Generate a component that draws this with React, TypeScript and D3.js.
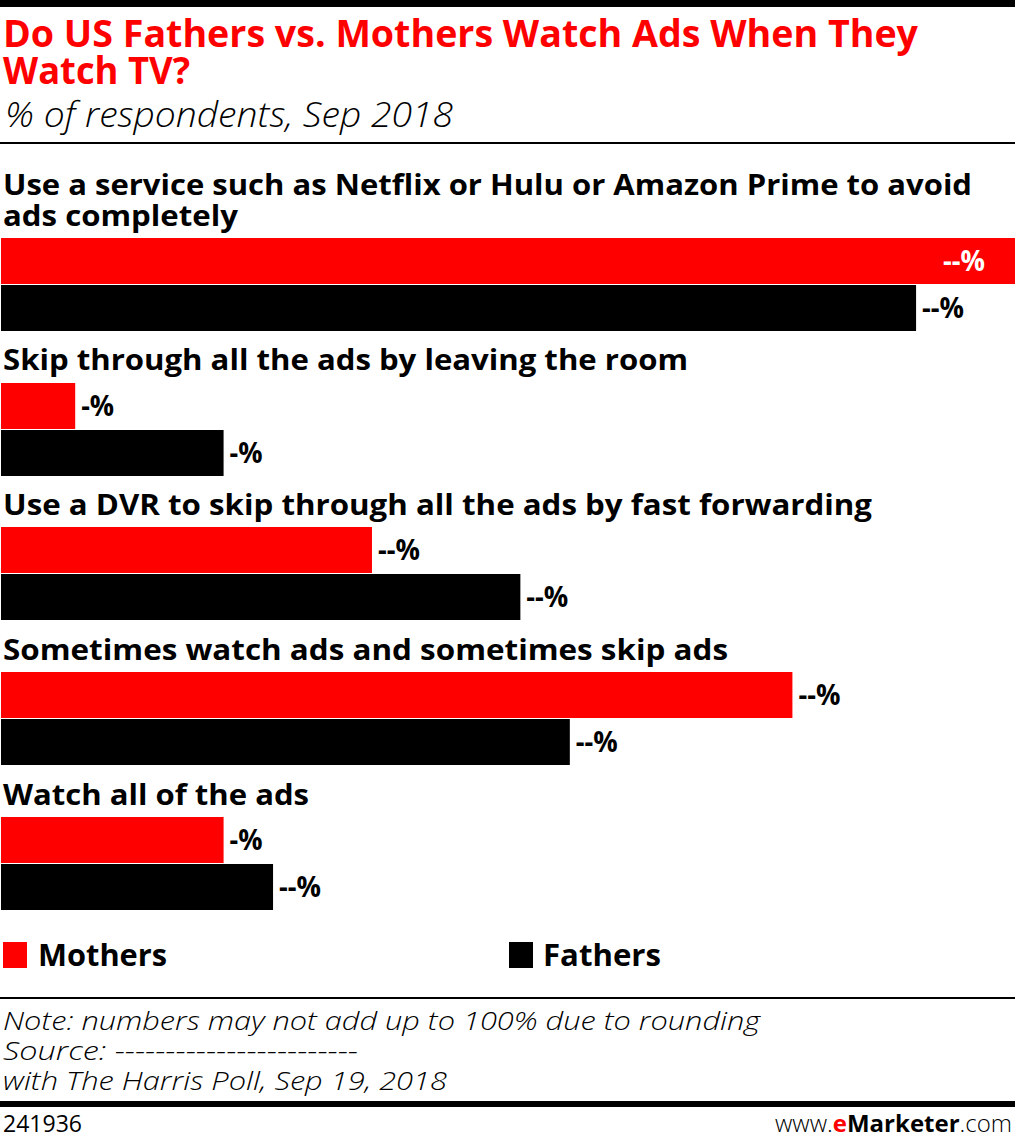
import React from "react";
import * as d3 from "d3";

const categories = [
  ["Use a service such as Netflix or Hulu or Amazon Prime to avoid", "ads completely"],
  ["Skip through all the ads by leaving the room"],
  ["Use a DVR to skip through all the ads by fast forwarding"],
  ["Sometimes watch ads and sometimes skip ads"],
  ["Watch all of the ads"],
];
const seriesNames = ["Mothers", "Fathers"];
const mothers = [41, 3, 15, 32, 9];
const fathers = [37, 9, 21, 23, 11];
const valueLabels = [
  ["--%", "--%"],
  ["-%", "-%"],
  ["--%", "--%"],
  ["--%", "--%"],
  ["-%", "--%"],
];
const colors = ["#ff0000", "#000000"];

// measured layout: per group, label baselines and bar top
const groupTops = [238, 383, 527, 672, 817];
const labelBaselines = [[195, 226], [370], [515], [660], [805]];
const labelWidths = [[969, 235], [685], [869], [725], [306]];

const W = 1015;
const H = 1135;
const BAR_H = 46;
const BAR_GAP = 1;

const BOLD = "'Open Sans', 'DejaVu Sans', sans-serif";

export default function App() {
  const x = d3.scaleLinear().domain([0, 41]).range([1, 1015]);
  const series = [mothers, fathers];

  return (
    <svg width={W} height={H} style={{ display: "block", position: "absolute", left: 0, top: 0 }}>
      <rect x={0} y={0} width={W} height={H} fill="#fff" />
      <rect x={0} y={0} width={W} height={7} fill="#000" />
      <text x={3} y={47} fontFamily={BOLD} fontWeight={700} fontSize={38} fill="#ff0000" textLength={915} lengthAdjust="spacingAndGlyphs">
        Do US Fathers vs. Mothers Watch Ads When They
      </text>
      <text x={3} y={84} fontFamily={BOLD} fontWeight={700} fontSize={38} fill="#ff0000" textLength={187} lengthAdjust="spacingAndGlyphs">
        Watch TV?
      </text>
      <text x={5} y={127} fontFamily={BOLD} fontWeight={300} fontStyle="italic" fontSize={34} fill="#000" textLength={448} lengthAdjust="spacingAndGlyphs">
        % of respondents, Sep 2018
      </text>
      <rect x={0} y={142} width={W} height={2} fill="#000" />

      {categories.map((lines, i) => (
        <g key={i}>
          {lines.map((ln, j) => (
            <text key={j} x={3} y={labelBaselines[i][j]} fontFamily={BOLD} fontWeight={700} fontSize={29} fill="#000" textLength={labelWidths[i][j]} lengthAdjust="spacingAndGlyphs">
              {ln}
            </text>
          ))}
          {series.map((s, k) => {
            const y0 = groupTops[i] + k * (BAR_H + BAR_GAP);
            const xe = x(s[i]);
            const lbl = valueLabels[i][k];
            const lw = lbl.length === 3 ? 42 : 33;
            const inside = xe + 8 + lw > W;
            return (
              <g key={k}>
                <rect x={x(0)} y={y0} width={xe - x(0)} height={BAR_H} fill={colors[k]} />
                <text
                  x={inside ? xe - 30 : xe + 6}
                  y={y0 + BAR_H / 2 + 10}
                  textAnchor={inside ? "end" : "start"}
                  fontFamily={BOLD}
                  fontWeight={700}
                  fontSize={28}
                  fill={inside ? "#fff" : "#000"}
                  textLength={lw}
                  lengthAdjust="spacingAndGlyphs"
                >
                  {lbl}
                </text>
              </g>
            );
          })}
        </g>
      ))}

      {/* legend */}
      <rect x={3} y={942} width={24} height={26} fill={colors[0]} />
      <text x={38} y={966} fontFamily={BOLD} fontWeight={700} fontSize={30} fill="#000" textLength={129} lengthAdjust="spacingAndGlyphs">
        {seriesNames[0]}
      </text>
      <rect x={509} y={942} width={24} height={26} fill={colors[1]} />
      <text x={543} y={966} fontFamily={BOLD} fontWeight={700} fontSize={30} fill="#000" textLength={118} lengthAdjust="spacingAndGlyphs">
        {seriesNames[1]}
      </text>

      <rect x={0} y={997} width={W} height={2} fill="#000" />
      <text x={3} y={1030} fontFamily={BOLD} fontWeight={300} fontStyle="italic" fontSize={26} fill="#000" textLength={757} lengthAdjust="spacingAndGlyphs">
        Note: numbers may not add up to 100% due to rounding
      </text>
      <text x={3} y={1060} fontFamily={BOLD} fontWeight={300} fontStyle="italic" fontSize={26} fill="#000" textLength={355} lengthAdjust="spacingAndGlyphs">
        Source: ------------------------
      </text>
      <text x={3} y={1090} fontFamily={BOLD} fontWeight={300} fontStyle="italic" fontSize={26} fill="#000" textLength={444} lengthAdjust="spacingAndGlyphs">
        with The Harris Poll, Sep 19, 2018
      </text>
      <rect x={0} y={1101} width={W} height={6} fill="#000" />
      <text x={3} y={1132} fontFamily={BOLD} fontWeight={400} fontSize={24} fill="#000" textLength={79} lengthAdjust="spacingAndGlyphs">
        241936
      </text>
      <text x={775} y={1132} fontFamily={BOLD} fontSize={24} fill="#000" textLength={237} lengthAdjust="spacingAndGlyphs">
        <tspan fontWeight={300}>www.</tspan>
        <tspan fontWeight={700} fill="#ff0000">e</tspan>
        <tspan fontWeight={700}>Marketer</tspan>
        <tspan fontWeight={300}>.com</tspan>
      </text>
    </svg>
  );
}
